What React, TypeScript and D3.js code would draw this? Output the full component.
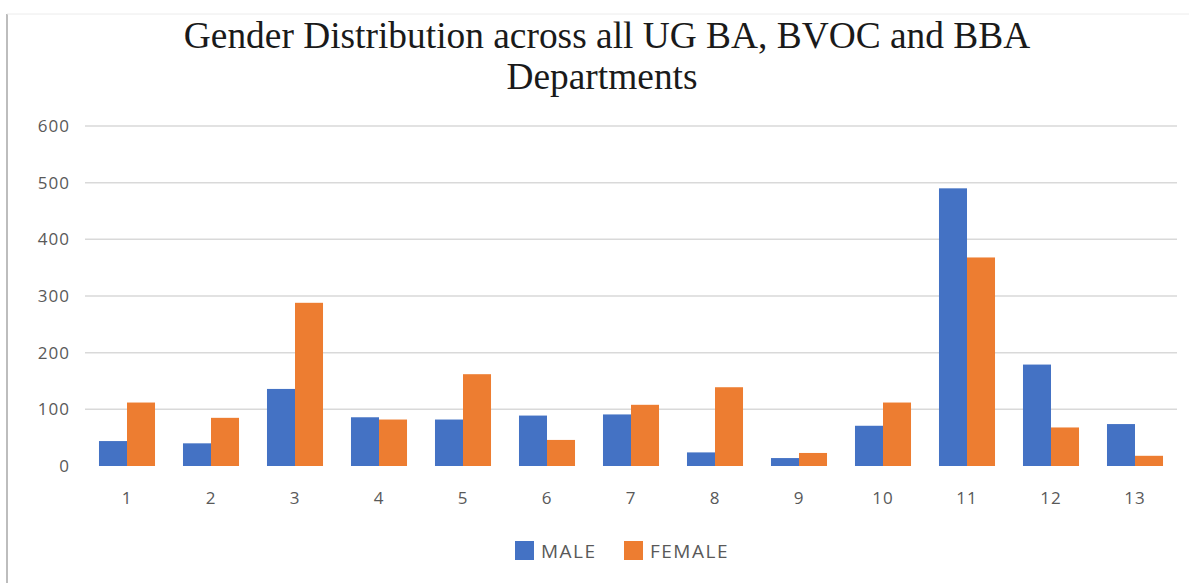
import * as d3 from "d3";

const categories = ["1", "2", "3", "4", "5", "6", "7", "8", "9", "10", "11", "12", "13"];
const male = [44, 40, 136, 86, 82, 89, 91, 24, 14, 71, 490, 179, 74];
const female = [112, 85, 288, 82, 162, 46, 108, 139, 23, 112, 368, 68, 18];
const yTicks = [0, 100, 200, 300, 400, 500, 600];
const seriesNames = ["MALE", "FEMALE"];
const colors = ["#4472C4", "#ED7D31"];

const W = 1189;
const H = 583;

export default function App() {
  const x = d3.scaleBand<string>().domain(categories).range([85, 1177]).paddingInner(0.333).paddingOuter(0.1665);
  const inner = d3.scaleBand<string>().domain(seriesNames).range([0, x.bandwidth()]);
  const y = d3.scaleLinear().domain([0, 600]).range([466, 126]);
  const series = [male, female];
  const axisFont = { fontFamily: "Open Sans, sans-serif", fontSize: 17, fill: "#595959", letterSpacing: 1 };

  return (
    <svg
      width={W}
      height={H}
      style={{ position: "absolute", left: 0, top: 0, background: "#fff" }}
    >
      <rect x={0} y={0} width={W} height={H} fill="#fff" />
      {/* frame edges */}
      <line x1={7} x2={7} y1={14} y2={H} stroke="#bdbdbd" strokeWidth={2} />
      <line x1={7} x2={W} y1={14} y2={14} stroke="#ececec" strokeWidth={1} />

      <text
        x={607}
        y={48}
        textAnchor="middle"
        fontFamily="Liberation Serif, serif"
        fontSize={37.4}
        fill="#1a1a1a"
      >
        Gender Distribution across all UG BA, BVOC and BBA
      </text>
      <text
        x={602}
        y={89}
        textAnchor="middle"
        fontFamily="Liberation Serif, serif"
        fontSize={37.4}
        fill="#1a1a1a"
      >
        Departments
      </text>

      {yTicks.map((t) => (
        <g key={t}>
          {t > 0 && (
            <line x1={85} x2={1177} y1={y(t)} y2={y(t)} stroke="#d9d9d9" strokeWidth={1.5} />
          )}
          <text x={70} y={y(t)} dy="0.35em" textAnchor="end" {...axisFont}>
            {t}
          </text>
        </g>
      ))}

      {categories.map((c, i) => (
        <g key={c} transform={`translate(${x(c)},0)`}>
          {series.map((s, j) => (
            <rect
              key={j}
              x={inner(seriesNames[j])}
              y={y(s[i])}
              width={inner.bandwidth()}
              height={y(0) - y(s[i])}
              fill={colors[j]}
            />
          ))}
          <text x={x.bandwidth() / 2} y={498} dy="0.35em" textAnchor="middle" {...axisFont}>
            {c}
          </text>
        </g>
      ))}

      {seriesNames.map((n, j) => {
        const lx = j === 0 ? 515 : 624;
        return (
          <g key={n} transform={`translate(${lx},541)`}>
            <rect x={0} y={0} width={19} height={19} fill={colors[j]} />
            <text
              x={26}
              y={10}
              dy="0.35em"
              fontFamily="Open Sans, sans-serif"
              fontSize={19}
              letterSpacing={1.5}
              fill="#595959"
            >
              {n}
            </text>
          </g>
        );
      })}
    </svg>
  );
}
